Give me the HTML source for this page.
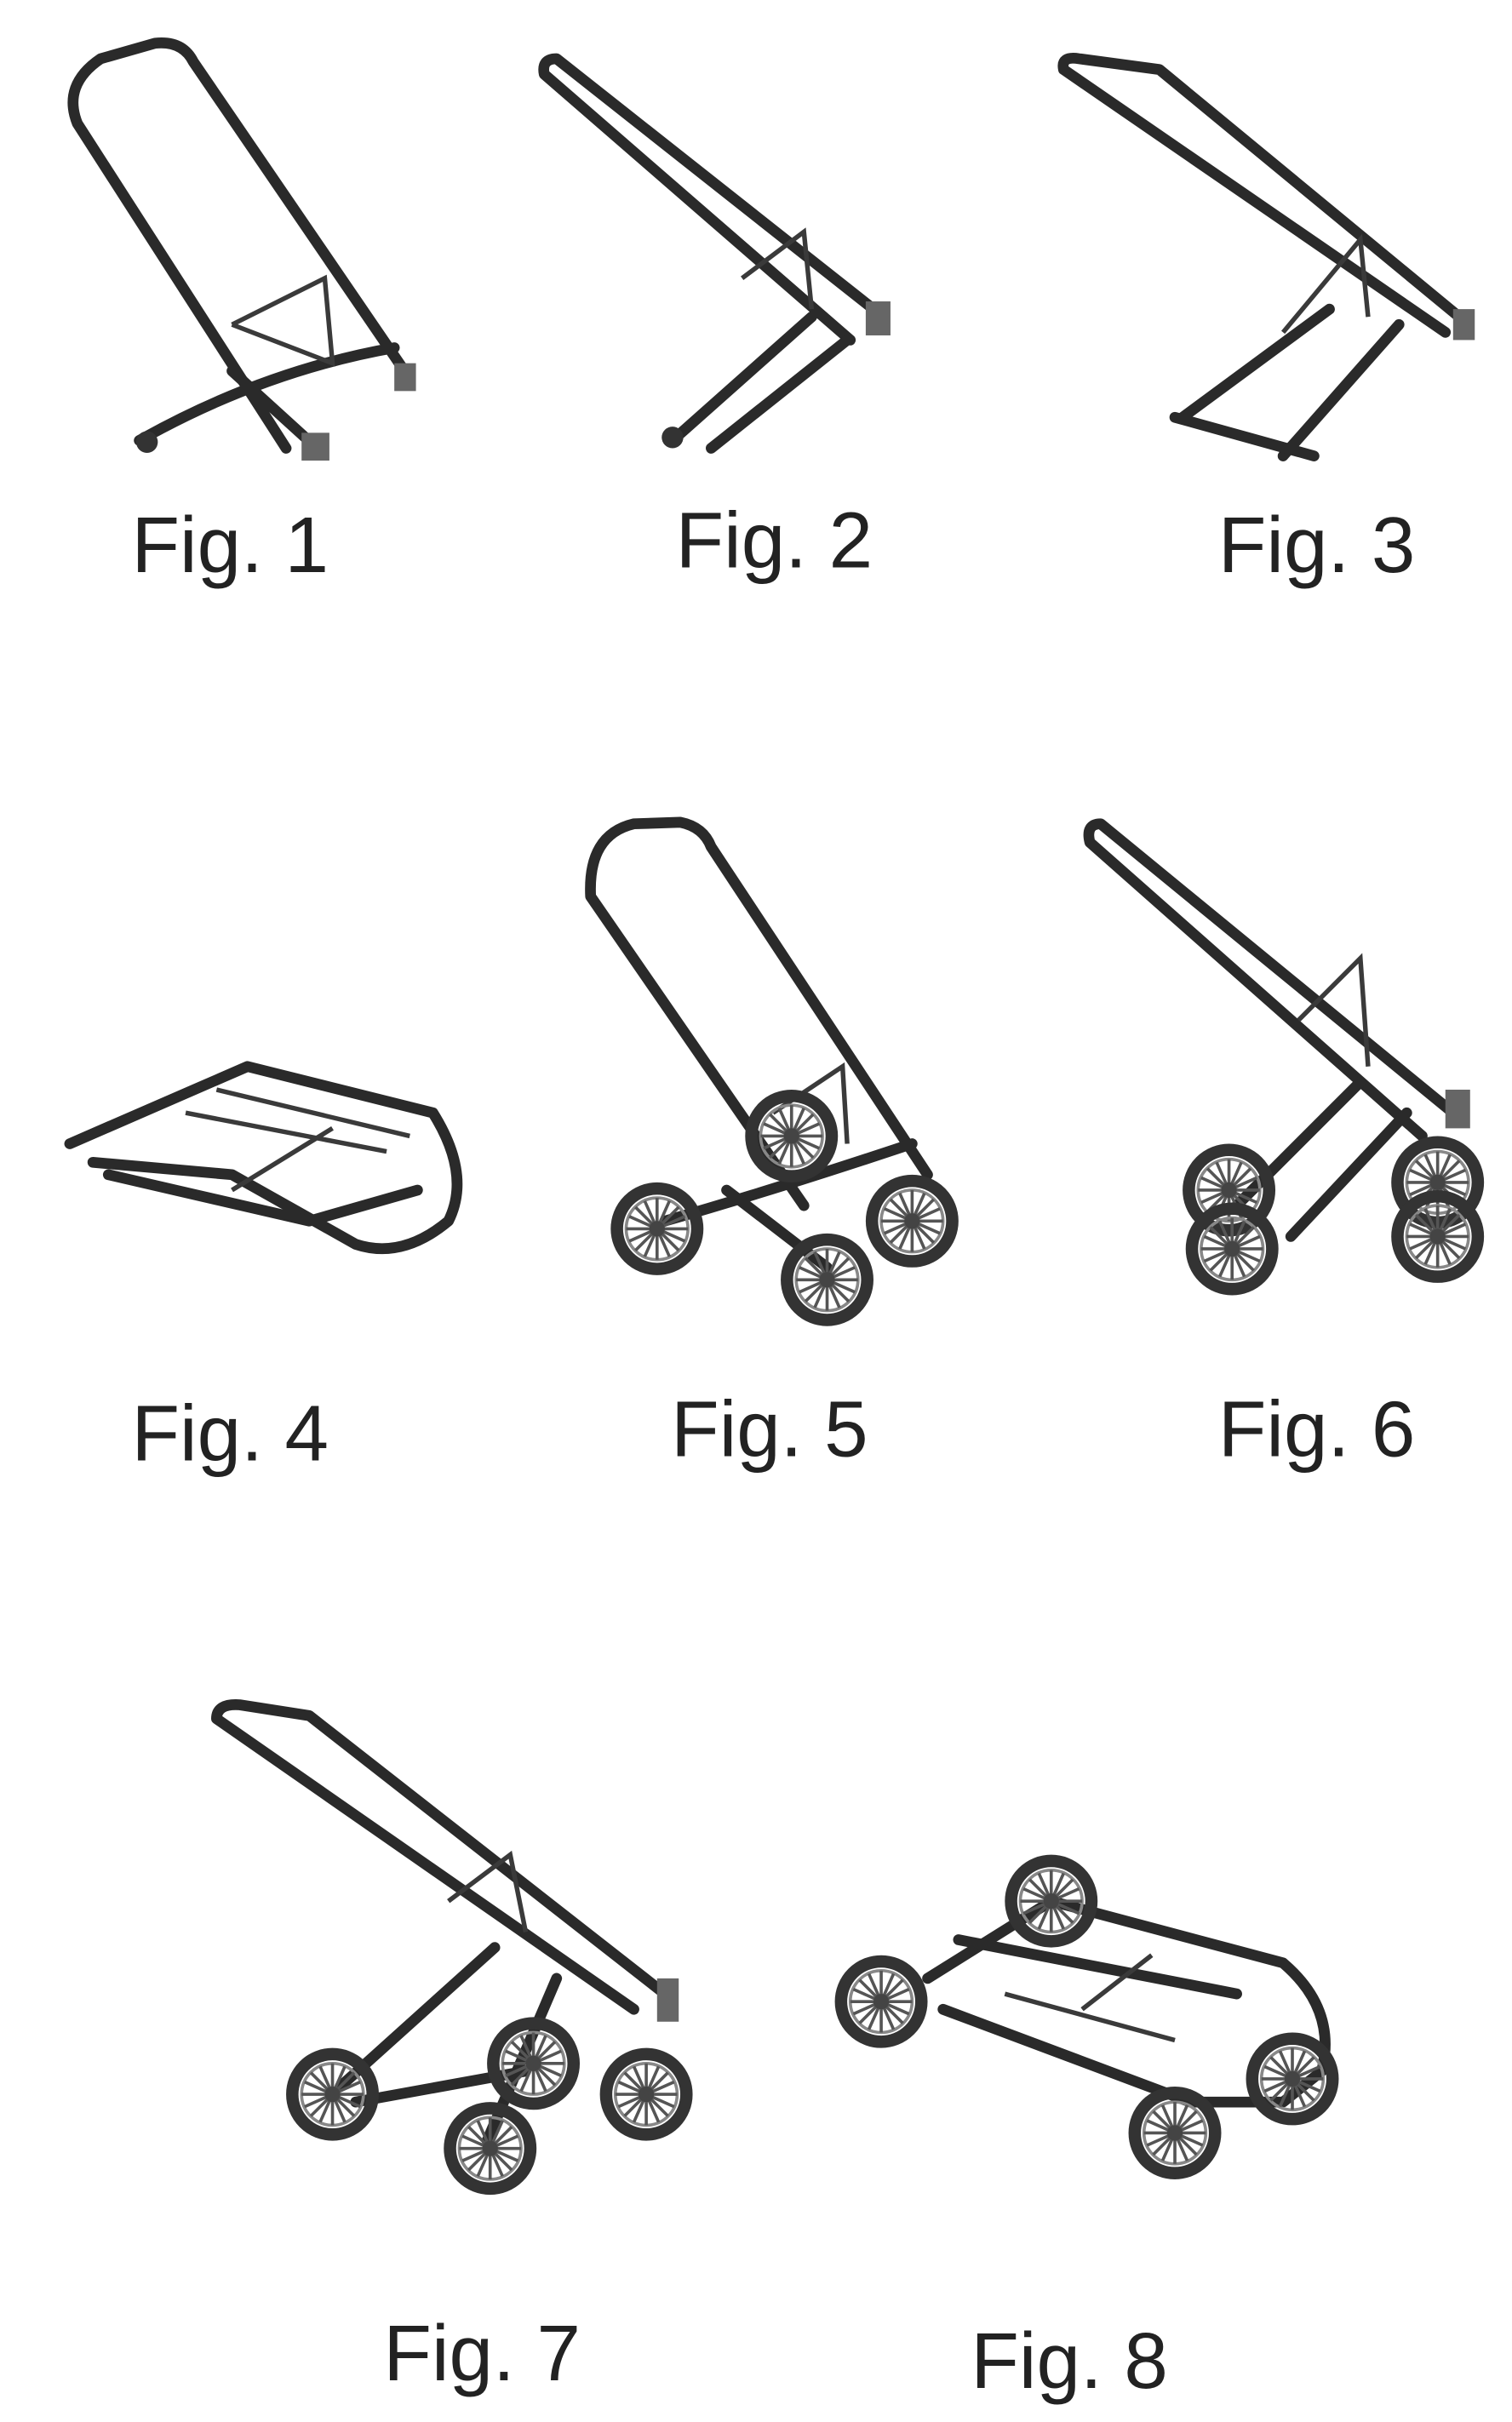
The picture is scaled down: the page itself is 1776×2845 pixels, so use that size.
<!DOCTYPE html>
<html><head><meta charset="utf-8"><style>
html,body{margin:0;padding:0;background:#fff;}
svg{display:block}
text{font-family:"Liberation Sans",sans-serif;fill:#222;font-size:51px}
.f{fill:none;stroke:#2a2a2a;stroke-width:7;stroke-linecap:round;stroke-linejoin:round}
.t{fill:none;stroke:#3a3a3a;stroke-width:3}
.w{fill:none;stroke:#333;stroke-width:8}
.s{stroke:#555;stroke-width:2}
</style></head><body>
<svg width="1776" height="2845" viewBox="0 0 978 1567" xmlns="http://www.w3.org/2000/svg">
<defs>
<g id="wh"><circle r="26" class="w"/><circle r="20" fill="none" stroke="#888" stroke-width="2"/>
<g class="s"><line x1="-20" y1="0" x2="20" y2="0"/><line x1="0" y1="-20" x2="0" y2="20"/><line x1="-14" y1="-14" x2="14" y2="14"/><line x1="-14" y1="14" x2="14" y2="-14"/><line x1="-8" y1="-18" x2="8" y2="18"/><line x1="-18" y1="-8" x2="18" y2="8"/><line x1="-8" y1="18" x2="8" y2="-18"/><line x1="-18" y1="8" x2="18" y2="-8"/></g>
<circle r="5" fill="#444"/></g>
</defs>
<!-- Fig 1 -->
<path class="f" d="M185 290 L50 80 Q40 55 65 38 L100 28 Q118 26 125 40 L265 245"/>
<path class="f" d="M90 285 Q170 240 255 225"/>
<path class="f" d="M150 240 L205 290"/>
<path class="t" d="M150 210 L210 180 L215 235 L150 210"/>
<rect x="195" y="280" width="18" height="18" fill="#666"/><rect x="255" y="235" width="14" height="18" fill="#666"/>
<circle cx="95" cy="286" r="7" fill="#333"/>
<!-- Fig 2 -->
<path class="f" d="M550 220 L352 48 Q350 38 360 38 L565 200"/>
<path class="f" d="M525 205 L435 285"/><path class="f" d="M548 220 L460 290"/>
<path class="t" d="M480 180 L520 150 L525 200"/>
<rect x="560" y="195" width="16" height="22" fill="#666"/>
<circle cx="435" cy="283" r="7" fill="#333"/>
<!-- Fig 3 -->
<path class="f" d="M935 215 L688 45 Q686 36 698 38 L750 45 L950 210"/>
<path class="f" d="M860 200 L765 270"/><path class="f" d="M905 210 L830 295"/>
<path class="f" d="M760 270 L850 295"/>
<path class="t" d="M830 215 L880 155 L885 205"/>
<rect x="940" y="200" width="14" height="20" fill="#666"/>
<!-- Fig 4 -->
<path class="f" d="M45 740 L160 690 L280 720 Q305 760 290 790 Q260 815 230 805 L150 760 L60 752"/>
<path class="f" d="M70 760 L200 790 L270 770"/>
<path class="t" d="M120 720 L250 745 M140 705 L265 735 M150 770 L215 730"/>
<!-- Fig 5 -->
<path class="f" d="M520 780 L382 580 Q380 540 410 533 L440 532 Q455 535 460 548 L600 760"/>
<path class="f" d="M430 790 Q500 770 590 740"/><path class="f" d="M470 770 L535 820"/>
<path class="t" d="M500 720 L545 690 L548 740"/>
<use href="#wh" x="425" y="795"/><use href="#wh" x="535" y="828"/><use href="#wh" x="590" y="790"/><use href="#wh" x="512" y="735"/>
<!-- Fig 6 -->
<path class="f" d="M920 735 L705 545 Q702 533 712 533 L940 720"/>
<path class="f" d="M880 700 L800 780"/><path class="f" d="M910 720 L835 800"/>
<path class="t" d="M840 660 L880 620 L885 690"/>
<use href="#wh" x="795" y="770"/><use href="#wh" x="797" y="808"/><use href="#wh" x="930" y="765"/><use href="#wh" x="930" y="800"/>
<rect x="935" y="705" width="16" height="25" fill="#666"/>
<!-- Fig 7 -->
<path class="f" d="M410 1300 L140 1112 Q140 1102 155 1103 L200 1110 L430 1290"/>
<path class="f" d="M320 1260 L220 1350"/><path class="f" d="M360 1280 L315 1385"/>
<path class="f" d="M230 1360 L340 1340"/>
<path class="t" d="M290 1230 L330 1200 L340 1250"/>
<rect x="425" y="1280" width="14" height="28" fill="#666"/>
<use href="#wh" x="215" y="1355"/><use href="#wh" x="317" y="1390"/><use href="#wh" x="345" y="1335"/><use href="#wh" x="418" y="1355"/>
<!-- Fig 8 -->
<path class="f" d="M600 1280 L680 1230 L830 1270 Q865 1300 855 1340 L830 1360 L770 1360 L610 1300"/>
<path class="f" d="M620 1255 L800 1290"/>
<path class="t" d="M650 1290 L760 1320 M700 1300 L745 1265"/>
<use href="#wh" x="680" y="1230"/><use href="#wh" x="570" y="1295"/><use href="#wh" x="836" y="1345"/><use href="#wh" x="760" y="1380"/>
<!-- Labels -->
<text x="85" y="370">Fig. 1</text>
<text x="437" y="367">Fig. 2</text>
<text x="788" y="370">Fig. 3</text>
<text x="85" y="945">Fig. 4</text>
<text x="434" y="942">Fig. 5</text>
<text x="788" y="942">Fig. 6</text>
<text x="248" y="1540">Fig. 7</text>
<text x="628" y="1545">Fig. 8</text>
</svg>
</body></html>
